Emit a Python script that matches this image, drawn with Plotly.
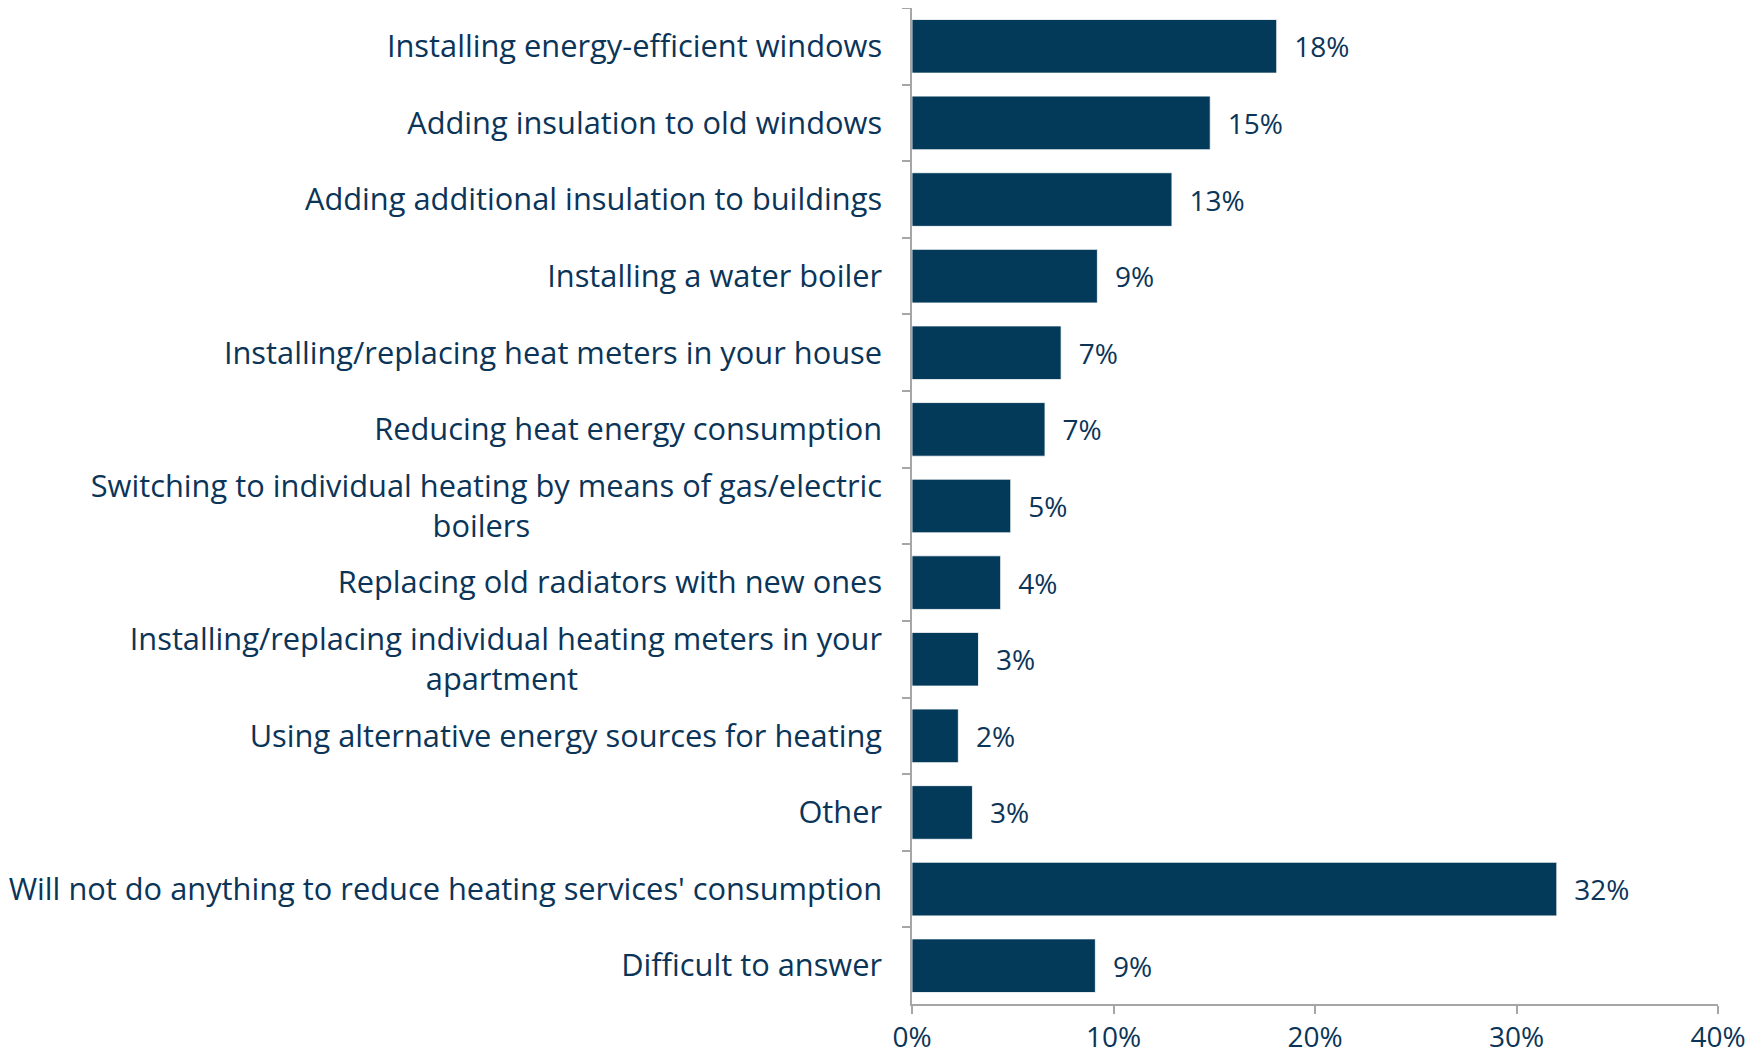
import plotly.graph_objects as go

NB = "\u00a0"
categories = [
    "Installing energy-efficient windows",
    "Adding insulation to old windows",
    "Adding additional insulation to buildings",
    "Installing a water boiler",
    "Installing/replacing heat meters in your house",
    "Reducing heat energy consumption",
    "Switching to individual heating by means of gas/electric<br>boilers" + NB * 44,
    "Replacing old radiators with new ones",
    "Installing/replacing individual heating meters in your<br>apartment" + NB * 38,
    "Using alternative energy sources for heating",
    "Other",
    "Will not do anything to reduce heating services' consumption",
    "Difficult to answer",
]
values = [18.1, 14.8, 12.9, 9.2, 7.4, 6.6, 4.9, 4.4, 3.3, 2.3, 3.0, 32.0, 9.1]
x_tickvals = [0, 10, 20, 30, 40]
x_ticktext = ["0%", "10%", "20%", "30%", "40%"]

NAVY = "#033A5A"
TEXT = "#0B3558"
GRID = "#A6A6A6"
FONT = "Open Sans"
FS = 28
FS_CAT = 30.8

fig = go.Figure(
    go.Bar(
        x=values,
        y=categories,
        orientation="h",
        marker=dict(color=NAVY, line=dict(color="#FFFFFF", width=0.8)),
        texttemplate=NB + NB + "%{x:.0f}%",
        textposition="outside",
        cliponaxis=False,
        textfont=dict(family=FONT, size=FS, color=TEXT),
        width=0.7,
    )
)

fig.update_layout(
    width=1763,
    height=1060,
    margin=dict(l=904, r=53, t=0, b=64),
    paper_bgcolor="white",
    plot_bgcolor="white",
    showlegend=False,
    font=dict(family=FONT, size=FS, color=TEXT),
)
fig.update_yaxes(
    type="category",
    autorange="reversed",
    automargin=False,
    showline=True,
    linecolor=GRID,
    linewidth=1.5,
    ticks="outside",
    tickson="boundaries",
    ticklen=8,
    tickcolor=GRID,
    tickwidth=1.5,
    showgrid=False,
    ticklabelstandoff=22,
    tickfont=dict(family=FONT, size=FS_CAT, color=TEXT),
)
fig.update_xaxes(
    range=[0, 40],
    automargin=False,
    tickvals=x_tickvals,
    ticktext=x_ticktext,
    showline=True,
    linecolor=GRID,
    linewidth=1.5,
    ticks="outside",
    ticklen=8,
    tickcolor=GRID,
    tickwidth=1.5,
    showgrid=False,
    zeroline=False,
    tickfont=dict(family=FONT, size=FS, color=TEXT),
)

fig.write_html("out.html")
